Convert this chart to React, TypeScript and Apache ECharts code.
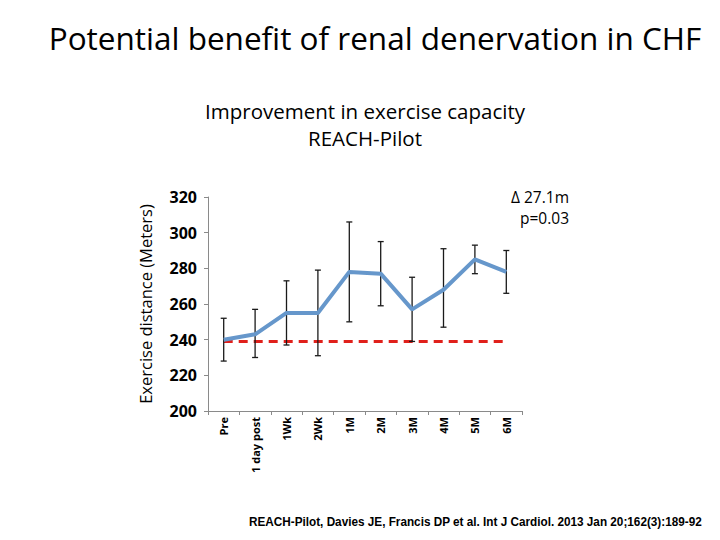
import React, { useEffect, useRef } from "react";
import * as echarts from "echarts";

const categories = ["Pre", "1 day post", "1Wk", "2Wk", "1M", "2M", "3M", "4M", "5M", "6M"];
const meanValues = [240, 243, 255, 255, 278, 277, 257, 268, 285, 278];
const lowerValues = [228, 230, 237, 231, 250, 259, 239, 247, 277, 266];
const upperValues = [252, 257, 273, 279, 306, 295, 275, 291, 293, 290];
const baselineValue = 239;
const yTicks = [200, 220, 240, 260, 280, 300, 320];

export default function App() {
  const ref = useRef<HTMLDivElement>(null);
  useEffect(() => {
    if (!ref.current) return;
    const chart = echarts.init(ref.current, null, { renderer: "svg" });
    const font = "'Open Sans', 'Noto Sans', sans-serif";
    const errData = categories.map((c, i) => [i, lowerValues[i], upperValues[i]]);
    chart.setOption({
      animation: false,
      backgroundColor: "#ffffff",
      textStyle: { fontFamily: font },
      title: [
        {
          text: "Potential benefit of renal denervation in CHF",
          left: 370,
          top: 16,
          textAlign: "center",
          textStyle: { fontSize: 31.5, fontWeight: "normal", color: "#000", fontFamily: font },
        },
        {
          text: "Improvement in exercise capacity\nREACH-Pilot",
          left: 360,
          top: 92,
          textAlign: "center",
          textStyle: { fontSize: 20.5, fontWeight: "normal", color: "#000", lineHeight: 27, fontFamily: font },
        },
      ],
      grid: { left: 208, top: 197, right: 198, bottom: 129, containLabel: false },
      xAxis: {
        type: "category",
        data: categories,
        boundaryGap: true,
        axisLine: { lineStyle: { color: "#8a8a8a", width: 1 } },
        axisTick: { show: true, alignWithLabel: false, length: 4, lineStyle: { color: "#8a8a8a" } },
        axisLabel: {
          rotate: 90,
          interval: 0,
          fontSize: 11,
          fontWeight: "bold",
          color: "#000",
          margin: 6,
          fontFamily: font,
        },
      },
      yAxis: {
        type: "value",
        min: yTicks[0],
        max: yTicks[yTicks.length - 1],
        interval: 20,
        name: "Exercise distance (Meters)",
        nameLocation: "middle",
        nameGap: 54,
        nameRotate: 90,
        nameTextStyle: { fontSize: 16.5, color: "#000", fontFamily: font },
        axisLine: { show: true, lineStyle: { color: "#8a8a8a", width: 1 } },
        axisTick: { show: true, length: 4, lineStyle: { color: "#8a8a8a" } },
        splitLine: { show: false },
        axisLabel: { fontSize: 16, fontWeight: "bold", color: "#000", margin: 11, fontFamily: font },
      },
      graphic: [
        {
          type: "text",
          right: 151,
          top: 189,
          style: { text: "Δ 27.1m", fontSize: 15.5, fill: "#000", fontFamily: font, textAlign: "right" },
        },
        {
          type: "text",
          right: 151,
          top: 210,
          style: { text: "p=0.03", fontSize: 15.5, fill: "#000", fontFamily: font, textAlign: "right" },
        },
        {
          type: "text",
          x: 249,
          y: 515,
          scaleX: 0.905,
          style: {
            text: "REACH-Pilot, Davies JE, Francis DP et al. Int J Cardiol. 2013 Jan 20;162(3):189-92",
            fontSize: 13,
            fontWeight: "bold",
            fill: "#000",
            fontFamily: "'Liberation Sans', sans-serif",
          },
        },
      ],
      series: [
        {
          type: "line",
          data: categories.map(() => baselineValue),
          symbol: "none",
          lineStyle: { color: "#e0201b", width: 3, type: [9, 6] },
          z: 2,
        },
        {
          type: "custom",
          data: errData,
          z: 3,
          renderItem: (params: any, api: any) => {
            const x = api.value(0);
            const lo = api.coord([x, api.value(1)]);
            const hi = api.coord([x, api.value(2)]);
            const hw = 3;
            const style = { stroke: "#1a1a1a", lineWidth: 1.3 };
            return {
              type: "group",
              children: [
                { type: "line", shape: { x1: lo[0], y1: lo[1], x2: hi[0], y2: hi[1] }, style },
                { type: "line", shape: { x1: lo[0] - hw, y1: lo[1], x2: lo[0] + hw, y2: lo[1] }, style },
                { type: "line", shape: { x1: hi[0] - hw, y1: hi[1], x2: hi[0] + hw, y2: hi[1] }, style },
              ],
            };
          },
        },
        {
          type: "line",
          data: meanValues,
          symbol: "none",
          lineStyle: { color: "#6697cb", width: 4 },
          z: 4,
        },
      ],
    });
    return () => chart.dispose();
  }, []);
  return <div ref={ref} style={{ width: 720, height: 540, position: "absolute", left: 0, top: 0 }} />;
}
